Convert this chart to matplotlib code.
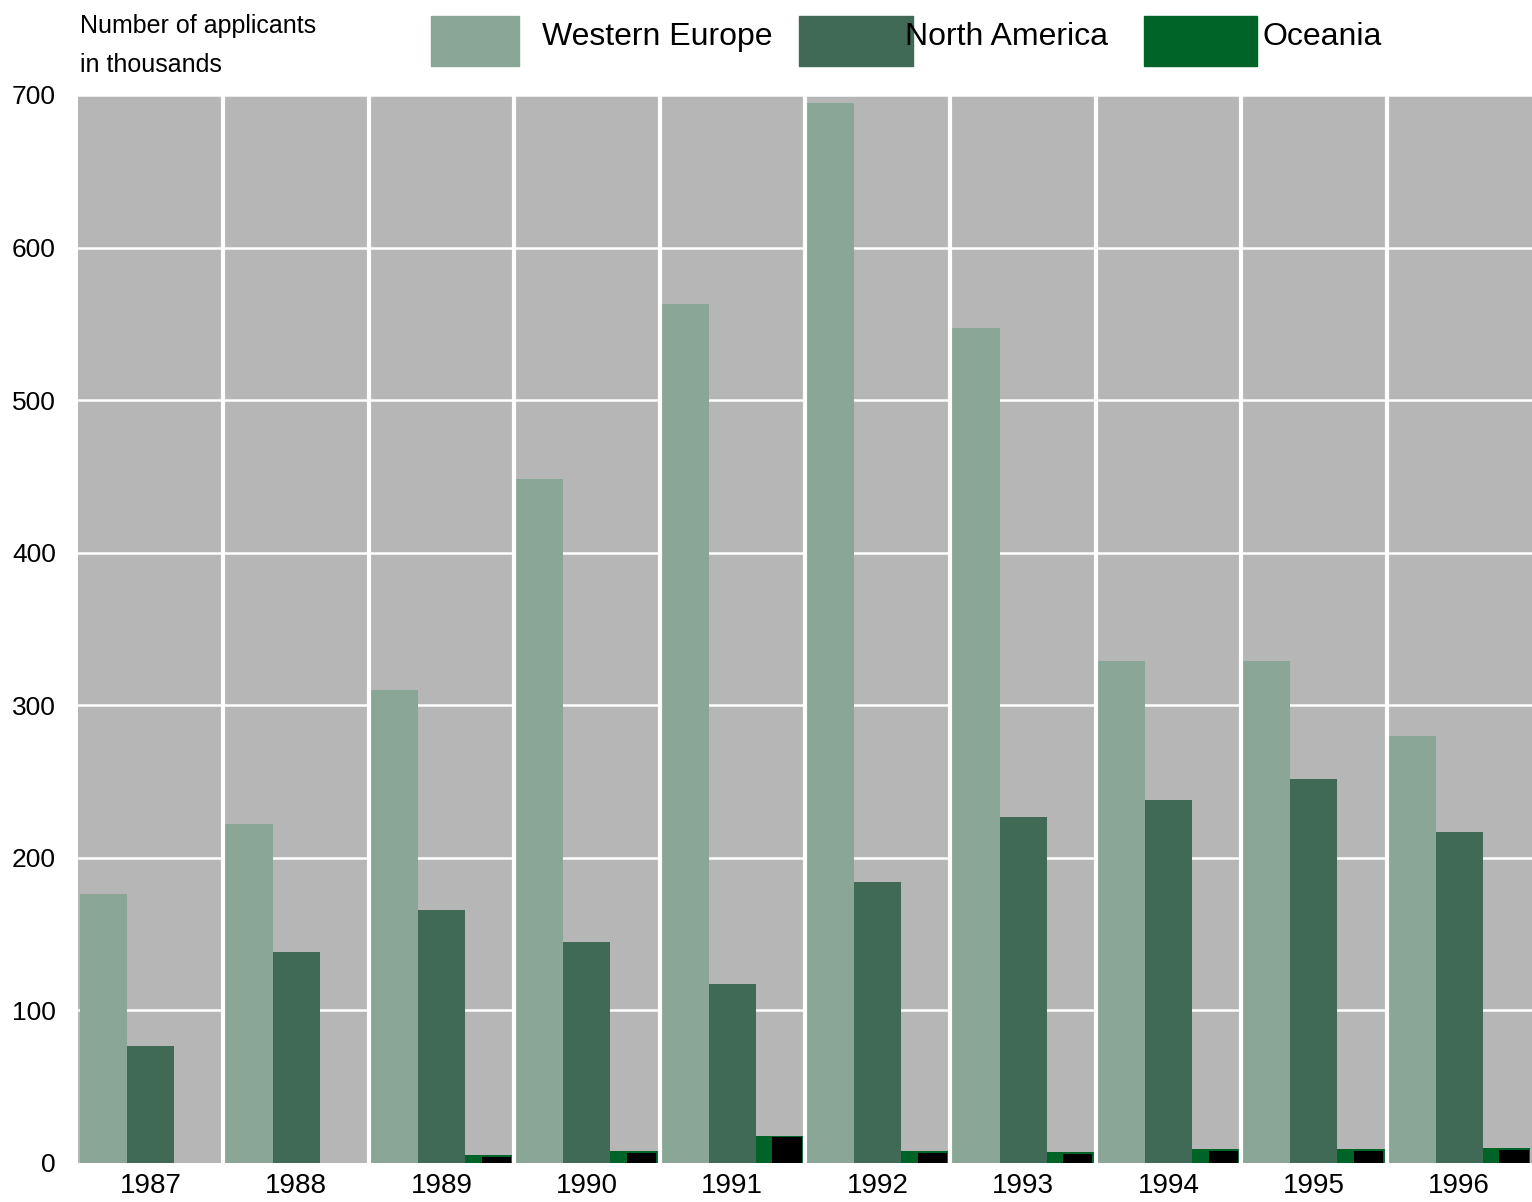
import matplotlib.pyplot as plt
import matplotlib.patches as mpatches
import numpy as np

plt.rcParams['font.family'] = ['Liberation Sans', 'DejaVu Sans']

# data, in thousands of applicants
years = ['1987', '1988', '1989', '1990', '1991', '1992', '1993', '1994', '1995', '1996']
western_europe = [176, 222, 310, 448, 563, 695, 547, 329, 329, 280]
north_america = [77, 138, 166, 145, 117, 184, 227, 238, 252, 217]
oceania = [0, 0, 5, 8, 18, 8, 7, 9, 9, 10]
yticks = [0, 100, 200, 300, 400, 500, 600, 700]

c_we = '#89a696'
c_na = '#406a55'
c_oc = '#006428'
bg = '#b6b6b6'

fig = plt.figure(figsize=(15.32, 12.02), dpi=100)
ax = fig.add_axes([78 / 1532, 39 / 1202, 1454 / 1532, 1068 / 1202])
ax.set_facecolor(bg)

x = np.arange(len(years))
gap = 0.027
w = (1 - gap) / 3
left = x - 0.5 + gap / 2
ax.bar(left, western_europe, w, align='edge', color=c_we, zorder=2)
ax.bar(left + w, north_america, w, align='edge', color=c_na, zorder=2)
ax.bar(left + 2 * w, oceania, w, align='edge', color=c_oc, zorder=2)
# the little black boxes sitting on the oceania bars
oc_arr = np.array(oceania, dtype=float)
ax.bar(left + 2 * w + w * 0.35, np.where(oc_arr > 0, oc_arr - 1.2, 0), w * 0.62,
       align='edge', color='black', zorder=3)

# white grid
for yv in yticks[1:]:
    ax.axhline(yv, color='white', lw=1.8, zorder=1)
for xv in x[:-1] + 0.5:
    ax.axvline(xv, color='white', lw=3, zorder=4)

ax.set_xlim(-0.5, len(years) - 0.5)
ax.set_ylim(0, 700)
ax.set_yticks(yticks)
ax.set_yticklabels([str(v) for v in yticks], fontsize=19)
ax.set_xticks(x)
ax.set_xticklabels(years, fontsize=20)
ax.tick_params(length=0)
ax.tick_params(axis='x', pad=7)
ax.tick_params(axis='y', pad=16)
for s in ax.spines.values():
    s.set_visible(False)

fig.text(80 / 1532, 1 - 26 / 1202, 'Number of applicants', fontsize=18,
         va='center', ha='left')
fig.text(80 / 1532, 1 - 65 / 1202, 'in thousands', fontsize=18,
         va='center', ha='left')

# legend drawn by hand
items = [('Western Europe', c_we, 431, 88, 542),
         ('North America', c_na, 799, 114, 905),
         ('Oceania', c_oc, 1144, 113, 1262)]
for label, col, px, pw, tx in items:
    fig.patches.append(mpatches.Rectangle((px / 1532, 1 - 66 / 1202), pw / 1532, 50 / 1202,
                                          transform=fig.transFigure, color=col))
    fig.text(tx / 1532, 1 - 37 / 1202, label, fontsize=23, va='center', ha='left')

plt.savefig('out.png', dpi=100)
